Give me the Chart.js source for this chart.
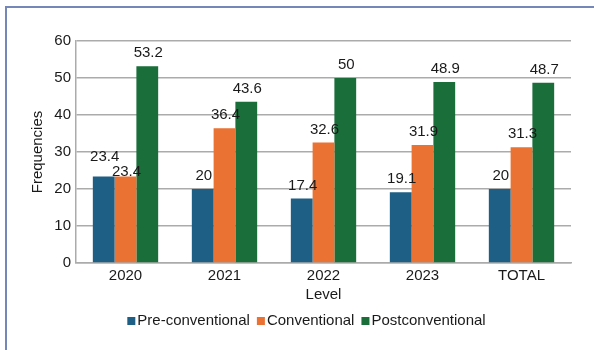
<!DOCTYPE html>
<html>
<head>
<meta charset="utf-8">
<script src="https://cdn.jsdelivr.net/npm/chart.js@4.4.1/dist/chart.umd.min.js"></script>
<style>
  html, body { margin: 0; padding: 0; background: #ffffff; }
  #wrap { position: relative; width: 594px; height: 350px; }
</style>
</head>
<body>
<div id="wrap"><canvas id="c"></canvas></div>
<script>
const categories = ['2020', '2021', '2022', '2023', 'TOTAL'];
const seriesNames = ['Pre-conventional', 'Conventional', 'Postconventional'];
const preConventional = [23.4, 20, 17.4, 19.1, 20];
const conventional = [23.4, 36.4, 32.6, 31.9, 31.3];
const postConventional = [53.2, 43.6, 50, 48.9, 48.7];
const yTicks = [0, 10, 20, 30, 40, 50, 60];
const colors = ['#1e5f85', '#ea7232', '#196e3a'];

const FONT = '"Liberation Sans", Arial, sans-serif';
const TEXT = '#1a1a1a';
const GRID = '#ababab';

// small per-label vertical nudges (style, not data) for overlapping labels in Excel
const labelNudge = { '0-0': -7, '1-0': 8 };

const labelsPlugin = {
  id: 'valueLabels',
  afterDatasetsDraw(chart) {
    const ctx = chart.ctx;
    ctx.save();
    ctx.font = '15px ' + FONT;
    ctx.fillStyle = TEXT;
    ctx.textAlign = 'center';
    ctx.textBaseline = 'middle';
    chart.data.datasets.forEach((ds, di) => {
      const meta = chart.getDatasetMeta(di);
      meta.data.forEach((el, i) => {
        const nudge = labelNudge[di + '-' + i] || 0;
        ctx.fillText(String(ds.data[i]), el.x + 1, el.y - 13 + nudge);
      });
    });
    ctx.restore();
  }
};

const legendPlugin = {
  id: 'customLegend',
  afterDraw(chart) {
    const ctx = chart.ctx;
    ctx.save();
    ctx.font = '15px ' + FONT;
    const box = 8, gapText = 2, gapItem = 7;
    const items = chart.data.datasets.map(ds => ({ text: ds.label, color: ds.backgroundColor, w: ctx.measureText(ds.label).width }));
    let total = 0;
    items.forEach((it, k) => { total += box + gapText + it.w + (k < items.length - 1 ? gapItem : 0); });
    let x = 306.5 - total / 2;
    const baseY = chart.chartArea.bottom + 62;
    ctx.textBaseline = 'alphabetic';
    ctx.textAlign = 'left';
    items.forEach(it => {
      ctx.fillStyle = it.color;
      ctx.fillRect(x, baseY - box, box, box);
      x += box + gapText;
      ctx.fillStyle = TEXT;
      ctx.fillText(it.text, x, baseY);
      x += it.w + gapItem;
    });
    // outer frame (top and left edges)
    ctx.fillStyle = '#7586b8';
    ctx.fillRect(5, 6, 594 - 5, 2);
    ctx.fillRect(5, 6, 2, 350 - 6);
    ctx.restore();
  }
};

new Chart(document.getElementById('c'), {
  type: 'bar',
  data: {
    labels: categories,
    datasets: [
      { label: seriesNames[0], data: preConventional, backgroundColor: colors[0] },
      { label: seriesNames[1], data: conventional, backgroundColor: colors[1] },
      { label: seriesNames[2], data: postConventional, backgroundColor: colors[2] }
    ]
  },
  options: {
    responsive: true,
    maintainAspectRatio: false,
    animation: false,
    devicePixelRatio: 1,
    layout: { padding: { left: 0, right: 23, top: 41, bottom: 42 } },
    datasets: { bar: { categoryPercentage: 0.66, barPercentage: 1.0, borderWidth: 0 } },
    plugins: {
      legend: { display: false },
      tooltip: { enabled: false }
    },
    scales: {
      x: {
        grid: { display: false, drawTicks: false },
        border: { display: true, color: GRID, width: 1.5 },
        ticks: { color: TEXT, font: { family: FONT, size: 15 }, padding: 4, maxRotation: 0 },
        title: { display: true, text: 'Level', color: TEXT, font: { family: FONT, size: 15 }, padding: { top: 0, bottom: 4 } },
        afterFit(s) { s.height = 45; }
      },
      y: {
        min: 0,
        max: 60,
        afterBuildTicks(s) { s.ticks = yTicks.map(v => ({ value: v })); },
        grid: { color: GRID, lineWidth: 1.5, drawTicks: false },
        border: { display: true, color: GRID, width: 1.5 },
        ticks: { color: TEXT, font: { family: FONT, size: 15 }, padding: 5 },
        title: { display: true, text: 'Frequencies', color: TEXT, font: { family: FONT, size: 15 }, padding: { top: 29, bottom: 0 } },
        afterFit(s) { s.width = 76; }
      }
    }
  },
  plugins: [labelsPlugin, legendPlugin]
});
</script>
</body>
</html>
